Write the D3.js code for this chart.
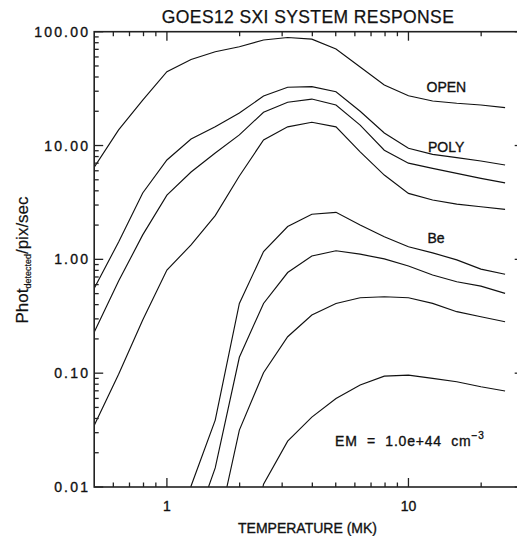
<!DOCTYPE html>
<html><head><meta charset="utf-8">
<script src="https://cdn.jsdelivr.net/npm/d3@7/dist/d3.min.js"></script>
<style>body{margin:0;background:#fff} svg{display:block}</style>
</head><body><svg id="c" width="517" height="536"></svg>
<script>
// Temperature grid (MK)
const temperatures = [0.501, 0.631, 0.794, 1.0, 1.259, 1.585, 1.995, 2.512, 3.162, 3.981, 5.012, 6.310, 7.943, 10.0, 12.59, 15.85, 19.95, 25.12];
// Photon response curves (phot detected / pix / sec)
const openFilter = [6.5, 13.7, 25, 44.5, 57, 66.7, 73.8, 84.5, 89, 86, 70.5, 49, 34, 27.4, 24.6, 23.5, 22.7, 21.5];
const polyFilter = [0.56, 1.42, 3.83, 7.47, 11.4, 14.6, 19.3, 27.2, 32.5, 32.9, 29.7, 20.0, 12.9, 9.45, 8.37, 7.82, 7.31, 6.74];
const filter3 = [0.231, 0.644, 1.64, 3.67, 5.85, 8.6, 12.4, 19.6, 24, 25.6, 22.7, 15.1, 9.1, 7.0, 6.3, 5.7, 5.15, 4.7];
const filter4 = [0.035, 0.098, 0.293, 0.805, 1.34, 2.42, 5.4, 11.2, 14.6, 16, 14.6, 8.8, 5.5, 3.8, 3.32, 3.06, 2.9, 2.75];
const beFilter = [null, null, null, 0.0005, 0.0102, 0.0387, 0.41, 1.17, 1.94, 2.49, 2.59, 2.0, 1.58, 1.29, 1.14, 0.99, 0.82, 0.74];
const filter6 = [null, null, null, null, 0.0037, 0.0147, 0.138, 0.41, 0.766, 1.07, 1.19, 1.11, 1.01, 0.873, 0.728, 0.635, 0.582, 0.502];
const filter7 = [null, null, null, null, null, 0.0034, 0.0316, 0.101, 0.209, 0.324, 0.41, 0.46, 0.469, 0.46, 0.41, 0.347, 0.313, 0.283];
const filter8 = [null, null, null, null, null, null, 0.001, 0.0106, 0.0253, 0.0411, 0.0598, 0.0786, 0.0942, 0.0962, 0.090, 0.084, 0.0759, 0.0697];
const seriesList = [openFilter, polyFilter, filter3, filter4, beFilter, filter6, filter7, filter8];

// Axis ticks
const xMajorTicks = [1, 10];
const xMinorTicks = [0.6, 0.7, 0.8, 0.9, 2, 3, 4, 5, 6, 7, 8, 9, 20];
const yMajorTicks = [0.01, 0.1, 1, 10, 100];
const yMinorTicks = [0.02,0.03,0.04,0.05,0.06,0.07,0.08,0.09,0.2,0.3,0.4,0.5,0.6,0.7,0.8,0.9,2,3,4,5,6,7,8,9,20,30,40,50,60,70,80,90];
const xTickLabels = ["1", "10"];

// Annotations
const curveLabels = [{t: "OPEN", x: 426.5, y: 91.5}, {t: "POLY", x: 428, y: 151.5}, {t: "Be", x: 427.5, y: 243}];

const svg = d3.select("#c");
const L = 94.2, R = 523.7, T = 31.7, B = 487;
const xs = d3.scaleLog().domain([0.5, 30]).range([L, R]);
const ys = d3.scaleLog().domain([0.01, 100]).range([B, T]);
const font = "'Liberation Sans', Arial, sans-serif";
const heavy = sel => sel.attr("stroke", "#111").attr("stroke-width", 0.35);

svg.append("defs").append("clipPath").attr("id", "clip")
  .append("rect").attr("x", L).attr("y", T).attr("width", R - L).attr("height", B - T);

// curves
const line = d3.line()
  .defined(d => d.v != null)
  .x(d => xs(d.t)).y(d => ys(d.v));
svg.append("g").attr("clip-path", "url(#clip)")
  .selectAll("path").data(seriesList).join("path")
  .attr("d", s => line(s.map((v, i) => ({t: temperatures[i], v}))))
  .attr("fill", "none").attr("stroke", "#111").attr("stroke-width", 1.15);

// frame
svg.append("rect").attr("x", L).attr("y", T).attr("width", R - L).attr("height", B - T)
  .attr("fill", "none").attr("stroke", "#222").attr("stroke-width", 1.6);

const MAJ = 9, MIN = 4.5;
const g = svg.append("g").attr("stroke", "#222").attr("stroke-width", 1.3);
function xt(vals, len) {
  g.selectAll(null).data(vals).join("line")
    .attr("x1", d => xs(d)).attr("x2", d => xs(d)).attr("y1", B).attr("y2", B - len);
  g.selectAll(null).data(vals).join("line")
    .attr("x1", d => xs(d)).attr("x2", d => xs(d)).attr("y1", T).attr("y2", T + len);
}
function yt(vals, len) {
  g.selectAll(null).data(vals).join("line")
    .attr("y1", d => ys(d)).attr("y2", d => ys(d)).attr("x1", L).attr("x2", L + len);
  g.selectAll(null).data(vals).join("line")
    .attr("y1", d => ys(d)).attr("y2", d => ys(d)).attr("x1", R).attr("x2", R - len);
}
xt(xMajorTicks, MAJ); xt(xMinorTicks, MIN);
yt(yMajorTicks, MAJ); yt(yMinorTicks, MIN);

// tick labels
svg.append("g").selectAll("text").data(yMajorTicks).join("text")
  .attr("x", L - 4).attr("y", d => ys(d) + 5)
  .attr("text-anchor", "end").attr("font-family", font).attr("font-size", 14)
  .attr("letter-spacing", "2.2px").attr("fill", "#111").call(heavy)
  .text(d => d3.format(".2f")(d));
svg.append("g").selectAll("text").data(xMajorTicks).join("text")
  .attr("x", d => xs(d)).attr("y", B + 24)
  .attr("text-anchor", "middle").attr("font-family", font).attr("font-size", 14).attr("fill", "#111").call(heavy)
  .text((d, i) => xTickLabels[i]);

// title
svg.append("text").attr("x", 308).attr("y", 22.5).attr("text-anchor", "middle")
  .attr("font-family", font).attr("font-size", 17.5).attr("letter-spacing", "0.4px").attr("fill", "#111")
  .attr("stroke", "#111").attr("stroke-width", 0.25)
  .text("GOES12 SXI SYSTEM RESPONSE");

// x axis title
svg.append("text").attr("x", 307.5).attr("y", 533).attr("text-anchor", "middle")
  .attr("font-family", font).attr("font-size", 14).attr("fill", "#111").call(heavy)
  .text("TEMPERATURE (MK)");

// y axis title
const yl = svg.append("text").attr("transform", "translate(28,260) rotate(-90)")
  .attr("text-anchor", "middle").attr("font-family", font).attr("font-size", 17).attr("fill", "#111")
  .attr("stroke", "#111").attr("stroke-width", 0.2);
yl.append("tspan").text("Phot");
yl.append("tspan").attr("font-size", 9).attr("dy", 3).text("detected");
yl.append("tspan").attr("dy", -3).text("/pix/sec");

// curve labels
svg.append("g").selectAll("text").data(curveLabels).join("text")
  .attr("x", d => d.x).attr("y", d => d.y)
  .attr("font-family", font).attr("font-size", 14).attr("fill", "#111").call(heavy)
  .text(d => d.t);

// EM annotation
const em = svg.append("text").attr("x", 335).attr("y", 446)
  .attr("font-family", font).attr("font-size", 14).attr("fill", "#111").call(heavy)
  .attr("letter-spacing", "0.8px").attr("xml:space", "preserve");
em.append("tspan").text("EM  =  1.0e+44  cm");
em.append("tspan").attr("font-size", 10).attr("dy", -7).text("−3");
</script>
</body></html>
